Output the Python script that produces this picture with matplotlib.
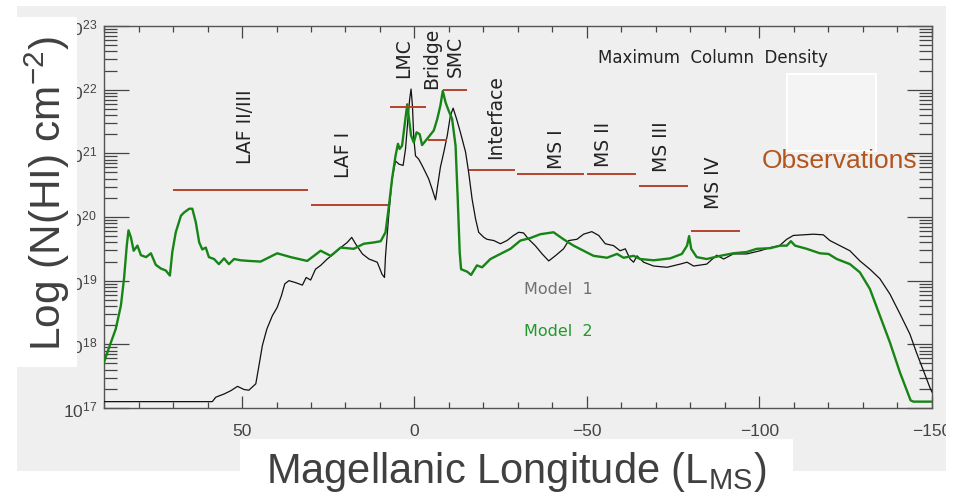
import numpy as np
import matplotlib
matplotlib.use('Agg')
import matplotlib.pyplot as plt
from matplotlib.patches import Rectangle
from matplotlib.ticker import FixedLocator, FixedFormatter, MultipleLocator, LogLocator, NullFormatter

# ---------------- data ----------------
# Model 2 (green): Magellanic longitude and log10 N(HI)
m2_lon = [90.0, 88.0, 86.6, 85.1, 84.2, 83.4, 82.9, 82.2, 81.4, 80.3,
          79.3, 77.8, 76.4, 75.0, 73.5, 72.1, 70.9, 70.2, 69.2, 67.7,
          66.8, 65.3, 64.4, 63.4, 62.4, 61.5, 60.5, 59.6, 58.1, 56.7,
          55.2, 53.8, 52.3, 50.4, 48.0, 44.6, 39.8, 35.9, 31.1, 27.2,
          24.3, 21.4, 17.6, 14.7, 11.8, 9.8, 8.4, 7.4, 6.5, 5.5,
          4.8, 4.3, 3.6, 2.9, 2.1, 1.6, 1.0, 0.2, -0.6, -1.5,
          -2.2, -3.7, -5.6, -6.6, -7.5, -8.2, -9.0, -9.9, -10.9, -11.9,
          -12.5, -13.1, -13.5, -15.3, -16.4, -18.1, -19.6, -22.0, -24.9, -27.8,
          -30.7, -33.6, -36.5, -40.3, -43.2, -46.1, -49.0, -51.9, -55.8, -58.7,
          -60.6, -63.5, -65.4, -69.3, -74.1, -77.5, -79.0, -79.6, -80.2, -81.8,
          -84.7, -88.6, -92.4, -96.3, -99.2, -103.1, -106.0, -107.9, -109.1, -110.3,
          -113.7, -117.5, -120.0, -122.4, -126.2, -129.1, -132.0, -134.9, -137.8, -140.7,
          -143.8, -144.6, -150.0]
m2_logN = [17.72, 18.03, 18.24, 18.61, 19.03, 19.55, 19.79, 19.68, 19.47, 19.55,
           19.40, 19.37, 19.43, 19.25, 19.19, 19.16, 19.08, 19.45, 19.76, 20.02,
           20.07, 20.13, 20.13, 19.92, 19.60, 19.49, 19.52, 19.37, 19.34, 19.26,
           19.35, 19.26, 19.34, 19.32, 19.31, 19.30, 19.43, 19.37, 19.31, 19.47,
           19.39, 19.52, 19.50, 19.58, 19.60, 19.62, 19.76, 20.18, 20.60, 20.96,
           21.15, 21.07, 21.12, 21.43, 21.77, 21.54, 21.28, 21.17, 21.33, 21.30,
           21.13, 21.23, 21.36, 21.54, 21.75, 21.98, 21.80, 21.67, 21.54, 21.12,
           20.33, 19.45, 19.18, 19.14, 19.09, 19.24, 19.21, 19.34, 19.42, 19.50,
           19.63, 19.67, 19.73, 19.76, 19.65, 19.55, 19.47, 19.39, 19.36, 19.42,
           19.36, 19.39, 19.34, 19.32, 19.35, 19.42, 19.55, 19.70, 19.50, 19.37,
           19.34, 19.39, 19.43, 19.45, 19.50, 19.51, 19.55, 19.55, 19.62, 19.55,
           19.50, 19.43, 19.42, 19.34, 19.26, 19.13, 18.87, 18.45, 18.03, 17.56,
           17.12, 17.10, 17.10]

# Model 1 (black)
m1_lon = [90.0, 58.6, 57.6, 55.2, 53.3, 51.3, 49.4, 48.0, 46.0, 45.1,
          44.1, 42.8, 41.2, 39.8, 38.6, 37.6, 36.4, 34.5, 32.5, 31.4,
          30.1, 28.7, 27.2, 25.3, 23.4, 21.4, 19.5, 18.2, 17.1, 15.1,
          13.2, 10.8, 9.4, 8.7, 8.4, 7.4, 6.5, 5.5, 4.5, 3.3,
          2.6, 1.9, 1.4, 1.0, 0.6, 0.2, -0.3, -1.2, -2.2, -3.2,
          -4.1, -5.1, -6.1, -6.7, -7.5, -8.5, -9.5, -10.4, -11.2, -12.2,
          -13.3, -14.8, -15.7, -16.7, -17.7, -18.6, -20.1, -21.0, -23.0, -24.9,
          -26.8, -28.7, -30.2, -31.6, -33.1, -35.0, -37.0, -38.9, -40.8, -43.2,
          -44.7, -47.1, -49.0, -51.4, -53.4, -55.3, -57.7, -59.6, -61.1, -62.5,
          -63.5, -64.5, -66.4, -69.3, -73.2, -77.0, -79.0, -80.9, -84.7, -87.6,
          -89.6, -92.4, -96.3, -100.2, -103.1, -105.8, -107.9, -109.8, -112.7, -115.6,
          -118.5, -120.4, -123.3, -126.2, -129.1, -132.0, -134.9, -137.8, -140.7, -143.6,
          -145.5, -147.5, -149.4, -150.0]
m1_logN = [17.10, 17.10, 17.17, 17.22, 17.27, 17.34, 17.29, 17.28, 17.38, 17.66,
           17.98, 18.24, 18.45, 18.58, 18.76, 18.95, 19.00, 18.97, 18.93, 19.05,
           19.01, 19.18, 19.24, 19.34, 19.42, 19.52, 19.60, 19.68, 19.58, 19.42,
           19.34, 19.29, 19.10, 19.05, 19.39, 20.07, 20.60, 20.88, 20.83, 20.81,
           21.07, 21.54, 21.85, 22.01, 21.75, 21.23, 20.96, 20.91, 20.81, 20.70,
           20.60, 20.44, 20.27, 20.49, 20.78, 21.02, 21.28, 21.59, 21.71, 21.54,
           21.33, 21.02, 20.70, 20.28, 19.97, 19.76, 19.68, 19.65, 19.63, 19.58,
           19.63, 19.71, 19.76, 19.75, 19.65, 19.55, 19.42, 19.31, 19.39, 19.50,
           19.63, 19.65, 19.73, 19.77, 19.71, 19.58, 19.55, 19.47, 19.50, 19.34,
           19.29, 19.39, 19.29, 19.23, 19.21, 19.26, 19.29, 19.23, 19.26, 19.40,
           19.34, 19.42, 19.42, 19.47, 19.52, 19.55, 19.65, 19.71, 19.72, 19.73,
           19.72, 19.63, 19.55, 19.47, 19.31, 19.18, 19.03, 18.79, 18.48, 18.16,
           17.87, 17.59, 17.32, 17.25]

# Observations (red segments)
obs_names = ['LAF II/III', 'LAF I', 'LMC', 'Bridge', 'SMC', 'Interface',
             'MS I', 'MS II', 'MS III', 'MS IV']
obs_lon_start = [70.1, 30.1, 7.2, -3.8, -8.4, -15.9, -29.8, -50.1, -65.1, -80.2]
obs_lon_end = [31.0, 7.8, -3.2, -9.5, -15.3, -29.2, -49.2, -64.3, -79.3, -94.4]
obs_logN = [20.43, 20.19, 21.73, 21.21, 22.00, 20.74, 20.67, 20.67, 20.49, 19.78]

# label anchor positions (longitude, log N) for region names
lab_lon = [48.9, 20.6, 3.2, -4.9, -11.9, -23.5, -41.1, -54.7, -71.5, -86.6]
lab_logN = [21.43, 20.99, 22.51, 22.50, 22.53, 21.59, 21.08, 21.15, 21.12, 20.55]

x_major = [50, 0, -50, -100, -150]
x_labels = ['50', '0', '\u221250', '\u2212100', '\u2212150']
y_exps = [17, 18, 19, 20, 21, 22, 23]

# ---------------- figure ----------------
plt.rcParams['font.family'] = ['Liberation Sans', 'DejaVu Sans']
plt.rcParams['mathtext.fontset'] = 'custom'
plt.rcParams['mathtext.rm'] = 'Liberation Sans'
plt.rcParams['mathtext.it'] = 'Liberation Sans:italic'
plt.rcParams['mathtext.default'] = 'regular'

W, H = 957, 502
fig = plt.figure(figsize=(W / 100, H / 100), dpi=100)


def frect(x0, y0, x1, y1, **kw):
    r = Rectangle((x0 / W, 1 - y1 / H), (x1 - x0) / W, (y1 - y0) / H,
                  transform=fig.transFigure, **kw)
    fig.add_artist(r)
    return r


BG = '#efefef'
frect(17, 7, 946, 472, facecolor=BG, edgecolor='none', zorder=-5)

ax = fig.add_axes([104 / W, 1 - 409 / H, (932 - 104) / W, (409 - 27) / H])
ax.set_facecolor(BG)
ax.set_yscale('log')
ax.set_xlim(90, -150)
ax.set_ylim(1e17, 1e23)

ax.plot(m1_lon, 10 ** np.array(m1_logN), color='#111111', lw=0.9, zorder=3)
ax.plot(m2_lon, 10 ** np.array(m2_logN), color='#168516', lw=1.7, zorder=4)
ax.hlines(10 ** np.array(obs_logN), obs_lon_start, obs_lon_end,
          color='#b4432e', lw=1.4, zorder=5)

for name, lx, ly in zip(obs_names, lab_lon, lab_logN):
    ax.text(lx, 10 ** ly, name, rotation=90, ha='center', va='center',
            fontsize=13.5, family='DejaVu Sans', color='#222222', zorder=6)

ax.text(-86.6, 10 ** 22.51, 'Maximum  Column  Density', ha='center', va='center',
        fontsize=12, family='DejaVu Sans', color='#222222')
ax.text(-31.6, 10 ** 18.87, 'Model  1', ha='left', va='center',
        fontsize=11.5, family='DejaVu Sans', color='#707070')
ax.text(-31.6, 10 ** 18.21, 'Model  2', ha='left', va='center',
        fontsize=11.5, family='DejaVu Sans', color='#22992a')

# ticks
ax.xaxis.set_major_locator(FixedLocator(x_major))
ax.xaxis.set_major_formatter(FixedFormatter(x_labels))
ax.xaxis.set_minor_locator(MultipleLocator(10))
ax.yaxis.set_major_locator(FixedLocator([10.0 ** e for e in y_exps]))
ax.yaxis.set_major_formatter(FixedFormatter(['$10^{%d}$' % e for e in y_exps]))
ax.yaxis.set_minor_locator(LogLocator(base=10, subs=np.arange(2, 10)))
ax.yaxis.set_minor_formatter(NullFormatter())

TC = '#444444'
ax.tick_params(axis='x', which='major', direction='in', length=8.6, width=0.9,
               top=True, bottom=True, colors=TC, labelsize=12.5, pad=11)
ax.tick_params(axis='x', which='minor', direction='in', length=4.3, width=0.9,
               top=True, bottom=True, colors=TC)
ax.tick_params(axis='y', which='major', direction='in', length=18, width=0.9,
               left=True, right=True, colors=TC, labelsize=12.5, pad=5)
ax.tick_params(axis='y', which='minor', direction='in', length=9.4, width=0.9,
               left=True, right=True, colors=TC)
for s in ax.spines.values():
    s.set_color('#555555')
    s.set_linewidth(1.0)

# white text boxes of the slide, over the plot
frect(17, 18, 77, 368, facecolor='white', edgecolor='none', zorder=1)
frect(240, 440, 793, 502, facecolor='white', edgecolor='none', zorder=1)
frect(946, 0, 957, 502, facecolor='white', edgecolor='none', zorder=1)
frect(787, 75, 876, 152, facecolor='#f4f4f4', edgecolor='white', lw=1.5, zorder=1)

fig.text(47 / W, 1 - 194 / H, 'Log (N(HI) cm$^{-2}$)', rotation=90,
         ha='center', va='center', fontsize=30.5, color='#404040', zorder=2)
fig.text(516 / W, 1 - 472 / H, 'Magellanic Longitude (L$_{MS}$)',
         ha='center', va='center', fontsize=30, color='#404040', zorder=2)
fig.text(840 / W, 1 - 161 / H, 'Observations', ha='center', va='center',
         fontsize=19, color='#b4541e', zorder=2)

fig.savefig('out.png', dpi=100)
